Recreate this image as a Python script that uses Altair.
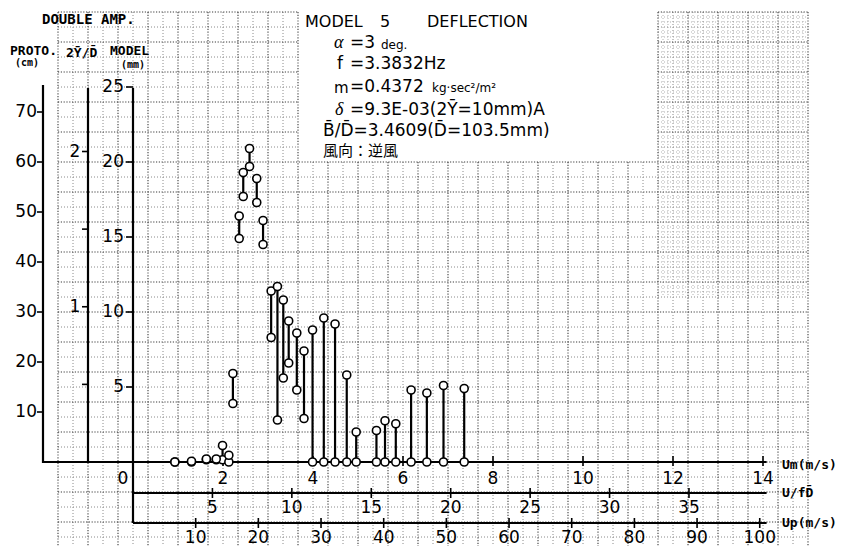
import altair as alt
import numpy as np
import pandas as pd

# ---------------- data ----------------
um = [0.93, 1.30, 1.63, 1.85, 1.99, 2.13, 2.22, 2.36, 2.45, 2.59, 2.75, 2.89,
      3.07, 3.21, 3.34, 3.46, 3.64, 3.80, 3.99, 4.24, 4.49, 4.75, 4.96,
      5.41, 5.60, 5.84, 6.18, 6.53, 6.90, 7.36]
amp_low = [0.0, 0.0, 0.15, 0.15, 0.15, 0.0, 3.9, 14.9, 17.7, 19.7, 17.3, 14.5,
           8.3, 2.8, 5.6, 6.6, 4.8, 2.9, 0.0, 0.0, 0.0, 0.0, 0.0,
           0.0, 0.0, 0.0, 0.0, 0.0, 0.0, 0.0]
amp_high = [0.0, 0.05, 0.2, 0.2, 1.1, 0.45, 5.9, 16.4, 19.3, 20.9, 18.9, 16.1,
            11.4, 11.7, 10.8, 9.4, 8.6, 7.4, 8.8, 9.6, 9.2, 5.8, 2.0,
            2.1, 2.75, 2.55, 4.8, 4.6, 5.1, 4.9]

proto_ticks = [10, 20, 30, 40, 50, 60, 70]          # cm
ratio_ticks = [1, 2]                                # 2Y/D
ratio_half_ticks = [0.5, 1.5]
model_ticks = [5, 10, 15, 20, 25]                   # mm
um_ticks = [0, 2, 4, 6, 8, 10, 12, 14]              # m/s
ufd_ticks = [5, 10, 15, 20, 25, 30, 35]
up_ticks = [10, 20, 30, 40, 50, 60, 70, 80, 90, 100]

MM_PER_CM = 1 / 3.0      # proto cm -> model mm
MM_PER_RATIO = 10.35     # 2Y/D -> model mm
FD = 0.353               # U/fD -> Um
UP_PER_UM = 7.18         # Up / Um

# ---------------- layout ----------------
W, H = 838, 538
X0, Y0 = 133.0, 462.0    # page pixel of Um=0 / mm=0
SX, SY = 45.0, 15.0      # px per m/s, px per mm


def ux(p):  # page x -> Um
    return (p - X0) / SX


def my(p):  # page y -> mm
    return (Y0 - p) / SY


xdom = [ux(8), ux(8 + W)]
ydom = [my(8 + H), my(8)]
xs = alt.Scale(domain=xdom, nice=False, zero=False)
ys = alt.Scale(domain=ydom, nice=False, zero=False)
X = lambda f: alt.X(f, type="quantitative", scale=xs, axis=None)
Y = lambda f: alt.Y(f, type="quantitative", scale=ys, axis=None)

# ---------------- graph paper ----------------
vmaj, vmin, hmaj, hmin = [], [], [], []
for k in range(-5, 46):
    xp = X0 + 15 * k
    top = 162 if 298 < xp < 658 else 12
    row = dict(x=ux(xp), y=my(top), y2=ydom[0])
    (vmaj if k % 2 else vmin).append(row)
for j in range(-5, 31):
    yp = Y0 - 15 * j
    segs = [(58, 298), (658, 808)] if j > 20 else [(58, 808)]
    for a, b in segs:
        row = dict(x=ux(a), x2=ux(b), y=my(yp))
        (hmaj if j % 2 == 0 else hmin).append(row)

fine_v = [dict(x=ux(xp), y=my(12), y2=my(297)) for xp in range(663, 808, 5) if (xp - 133) % 15]
fine_h = [dict(x=ux(658), x2=ux(808), y=my(yp)) for yp in range(17, 297, 5) if (462 - yp) % 15]


def vrules(rows, color, dash, w=1.0):
    return alt.Chart(pd.DataFrame(rows)).mark_rule(color=color, strokeDash=dash, strokeWidth=w).encode(
        x=X("x"), y=Y("y"), y2="y2")


def hrules(rows, color, dash, w=1.0):
    return alt.Chart(pd.DataFrame(rows)).mark_rule(color=color, strokeDash=dash, strokeWidth=w).encode(
        x=X("x"), x2="x2", y=Y("y"))


grid = [
    vrules(fine_v, "#a0a0a0", [1, 2], 0.8), hrules(fine_h, "#a0a0a0", [1, 2], 0.8),
    vrules(vmin, "#8a8a8a", [1, 2], 1.0), hrules(hmin, "#8a8a8a", [1, 2], 1.0),
    vrules(vmaj, "#3c3c3c", [1.2, 1.6], 1.1), hrules(hmaj, "#3c3c3c", [1.2, 1.6], 1.1),
]

# ---------------- axis frame lines ----------------
frame_v = pd.DataFrame([
    dict(x=ux(43), y=my(85), y2=my(463)),     # proto
    dict(x=ux(88), y=my(88), y2=my(463)),     # 2Y/D
    dict(x=0.0, y=my(88), y2=my(523)),        # model
])
frame_h = pd.DataFrame([
    dict(x=ux(43), x2=14.08, y=0.0),
    dict(x=0.0, x2=14.08, y=my(493)),
    dict(x=0.0, x2=14.08, y=my(523)),
])
frames = [
    alt.Chart(frame_v).mark_rule(color="black", strokeWidth=2.2).encode(x=X("x"), y=Y("y"), y2="y2"),
    alt.Chart(frame_h).mark_rule(color="black", strokeWidth=2.2).encode(x=X("x"), x2="x2", y=Y("y")),
]

# ---------------- ticks ----------------
tk = []
tk.append(pd.DataFrame(dict(x=ux(37), x2=ux(43), y=[v * MM_PER_CM for v in proto_ticks])))
tk.append(pd.DataFrame(dict(x=ux(82), x2=ux(88), y=[v * MM_PER_RATIO for v in ratio_ticks + ratio_half_ticks])))
tk.append(pd.DataFrame(dict(x=ux(126), x2=0.0, y=model_ticks)))
htick = pd.concat(tk)
vt = []
vt.append(pd.DataFrame(dict(x=um_ticks[1:], y=my(456), y2=my(466))))
vt.append(pd.DataFrame(dict(x=[v * FD for v in ufd_ticks], y=my(488), y2=my(498))))
vt.append(pd.DataFrame(dict(x=[v / UP_PER_UM for v in up_ticks], y=my(518), y2=my(528))))
vtick = pd.concat(vt)
ticks = [
    alt.Chart(htick).mark_rule(color="black", strokeWidth=1.6).encode(x=X("x"), x2="x2", y=Y("y")),
    alt.Chart(vtick).mark_rule(color="black", strokeWidth=1.6).encode(x=X("x"), y=Y("y"), y2="y2"),
]

NUMF = "DejaVu Sans"


def labels(df, align, size=17, dx=0, font=NUMF, weight="normal"):
    return alt.Chart(df).mark_text(align=align, baseline="middle", fontSize=size, font=font,
                                   fontWeight=weight, color="black", dx=dx).encode(
        x=X("x"), y=Y("y"), text="t:N")


lab = [
    labels(pd.DataFrame(dict(x=ux(37), y=[v * MM_PER_CM for v in proto_ticks],
                             t=[str(v) for v in proto_ticks])), "right"),
    labels(pd.DataFrame(dict(x=ux(75), y=[v * MM_PER_RATIO for v in ratio_ticks],
                             t=[str(v) for v in ratio_ticks])), "center"),
    labels(pd.DataFrame(dict(x=ux(124), y=model_ticks, t=[str(v) for v in model_ticks])), "right"),
    labels(pd.DataFrame(dict(x=um_ticks[1:], y=my(479), t=[str(v) for v in um_ticks[1:]])), "center"),
    labels(pd.DataFrame(dict(x=[um_ticks[0]], y=my(479), t=[str(um_ticks[0])])), "center", dx=-10),
    labels(pd.DataFrame(dict(x=[v * FD for v in ufd_ticks], y=my(508), t=[str(v) for v in ufd_ticks])), "center"),
    labels(pd.DataFrame(dict(x=[v / UP_PER_UM for v in up_ticks], y=my(538), t=[str(v) for v in up_ticks])), "center"),
]

# ---------------- data marks ----------------
df = pd.DataFrame(dict(um=um, lo=amp_low, hi=amp_high))
pts = pd.concat([df[["um", "lo"]].rename(columns={"lo": "a"}), df[["um", "hi"]].rename(columns={"hi": "a"})])
stems = alt.Chart(df).mark_rule(color="black", strokeWidth=2.2).encode(x=X("um"), y=Y("lo"), y2="hi")
marks = alt.Chart(pts).mark_point(shape="circle", filled=True, fill="white", stroke="black",
                                  strokeWidth=1.6, size=64, opacity=1).encode(x=X("um"), y=Y("a"))

# ---------------- annotations ----------------
MONO = "DejaVu Sans Mono"


def note(items, size, font, align="left", weight="normal", style="normal"):
    d = pd.DataFrame([dict(x=ux(a), y=my(b), t=t) for a, b, t in items])
    return alt.Chart(d).mark_text(align=align, baseline="middle", fontSize=size, font=font,
                                  fontWeight=weight, fontStyle=style, color="black").encode(
        x=X("x"), y=Y("y"), text="t:N")


notes = [
    note([(42, 20, "DOUBLE AMP.")], 14, MONO, weight="bold"),
    note([(10, 51, "PROTO."), (110, 51, "MODEL")], 13, MONO, weight="bold"),
    note([(66, 53, "2Y\u0304/D\u0304")], 13, MONO, weight="bold"),
    note([(15, 63, "(cm)"), (121, 65, "(mm)")], 10, MONO, weight="bold"),
    note([(782, 465, "Um(m/s)"), (782, 493, "U/fD\u0304"), (782, 523, "Up(m/s)")], 13, MONO, weight="bold"),
    note([(305, 22, "MODEL"), (380, 22, "5"), (427, 22, "DEFLECTION")], 16, "DejaVu Sans"),
    note([(334, 43, "\u03b1"), (335, 110, "\u03b4")], 18, "Liberation Serif", style="italic"),
    note([(337, 64, "f")], 17, "DejaVu Sans"),
    note([(334, 88, "m")], 15, "DejaVu Sans"),
    note([(350, 43, "=3"), (350, 64, "=3.3832Hz"), (350, 87, "=0.4372"),
          (350, 110, "=9.3E-03(2Y\u0304=10mm)A"),
          (323, 131, "B\u0304/D\u0304=3.4609(D\u0304=103.5mm)")], 17, "DejaVu Sans"),
    note([(381, 45, "deg."), (432, 88, "kg\u00b7sec\u00b2/m\u00b2")], 12, "DejaVu Sans"),
    note([(323, 151, "風向：逆風")], 15, "Noto Sans CJK JP"),
]

chart = alt.layer(*grid, *frames, *ticks, *lab, stems, marks, *notes).properties(
    width=W, height=H, padding=0, autosize=alt.AutoSizeParams(type="none"),
    background="white",
).configure_view(stroke=None)

chart.save("out.html", embed_options={"renderer": "svg", "actions": False})
